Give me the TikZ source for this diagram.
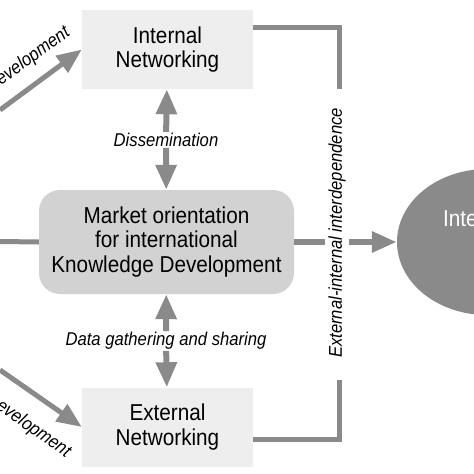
\documentclass[tikz,border=0pt]{standalone}
\usepackage{fontspec}
\setmainfont[FakeStretch=0.9]{Liberation Sans}
\usetikzlibrary{arrows.meta,shapes.geometric}
\definecolor{arrgray}{HTML}{8A8A8A}
\definecolor{lightbox}{HTML}{EEEEEE}
\definecolor{midbox}{HTML}{D2D2D2}
\begin{document}
\begin{tikzpicture}[x=1pt,y=-1pt,
  boxtext/.style={font=\fontsize{23}{24.5}\selectfont, align=center},
  netbox/.style={boxtext, rectangle, fill=lightbox, minimum width=171pt, minimum height=79pt, inner sep=0pt},
  labeltext/.style={font=\fontsize{18.5}{20}\selectfont\itshape, inner sep=1pt},
  grayline/.style={draw=arrgray, line width=5pt},
  bigarrow/.style={draw=arrgray, line width=6pt, -{Triangle[length=25pt,width=20pt]}},
  diagarrow/.style={draw=arrgray, line width=5pt, -{Triangle[length=25pt,width=20pt]}}
]
\useasboundingbox (0,0) rectangle (474,474);
\clip (0,0) rectangle (474,474);

% boxes
\node[netbox] (intbox) at (167.5,49.5) {Internal\\Networking};
\node[netbox] (extbox) at (167.5,427) {External\\Networking};
\node[boxtext, rectangle, rounded corners=21pt, fill=midbox, minimum width=255pt, minimum height=104pt, inner sep=0pt] (central) at (166.5,242) {Market orientation\\for international\\Knowledge Development};
\node[ellipse, fill=arrgray, minimum width=180pt, minimum height=146pt, inner sep=0pt] (ell) at (487,242) {};
\node[boxtext, text=white, anchor=base west, inner sep=0pt] (elltext) at (443,226) {International};

% labels on vertical arrows
\node[labeltext] (diss) at (166,140) {Dissemination};
\node[labeltext] (data) at (166,341) {Data gathering and sharing};

\draw[bigarrow] (diss) -- (intbox);
\draw[bigarrow] (diss) -- (central);
\draw[bigarrow] (data) -- (central);
\draw[bigarrow] (data) -- (extbox);

% arrow to ellipse, interrupted by the vertical label
\draw[bigarrow] (central.east) -- (ell.west);
\node[labeltext, rotate=90, fill=white, inner xsep=1pt, inner ysep=3pt] (interdep) at (337,233) {External-internal interdependence};

% brackets
\coordinate (tbc) at (339,27);
\coordinate (tbe) at (339,89);
\coordinate (bbs) at (339,380);
\coordinate (bbc) at (339,439);
\draw[grayline] (intbox.east |- tbc) -- (tbc) -- (tbe);
\draw[grayline] (bbs) -- (bbc) -- (extbox.east |- bbc);

% left line
\coordinate (lft) at (0,241.5);
\draw[grayline] (lft) -- (central.west);

% diagonal arrows
\coordinate (dtop) at (0,110);
\coordinate (dbot) at (0,370);
\draw[diagarrow] (dtop) -- (intbox.west);
\draw[diagarrow] (dbot) -- (extbox.west);
\node[labeltext, rotate=36, anchor=base east, inner sep=0pt] (devtop) at (71,35) {Development};
\node[labeltext, rotate=-35, anchor=base east, inner sep=0pt] (devbot) at (66,458) {Development};
\end{tikzpicture}
\end{document}
